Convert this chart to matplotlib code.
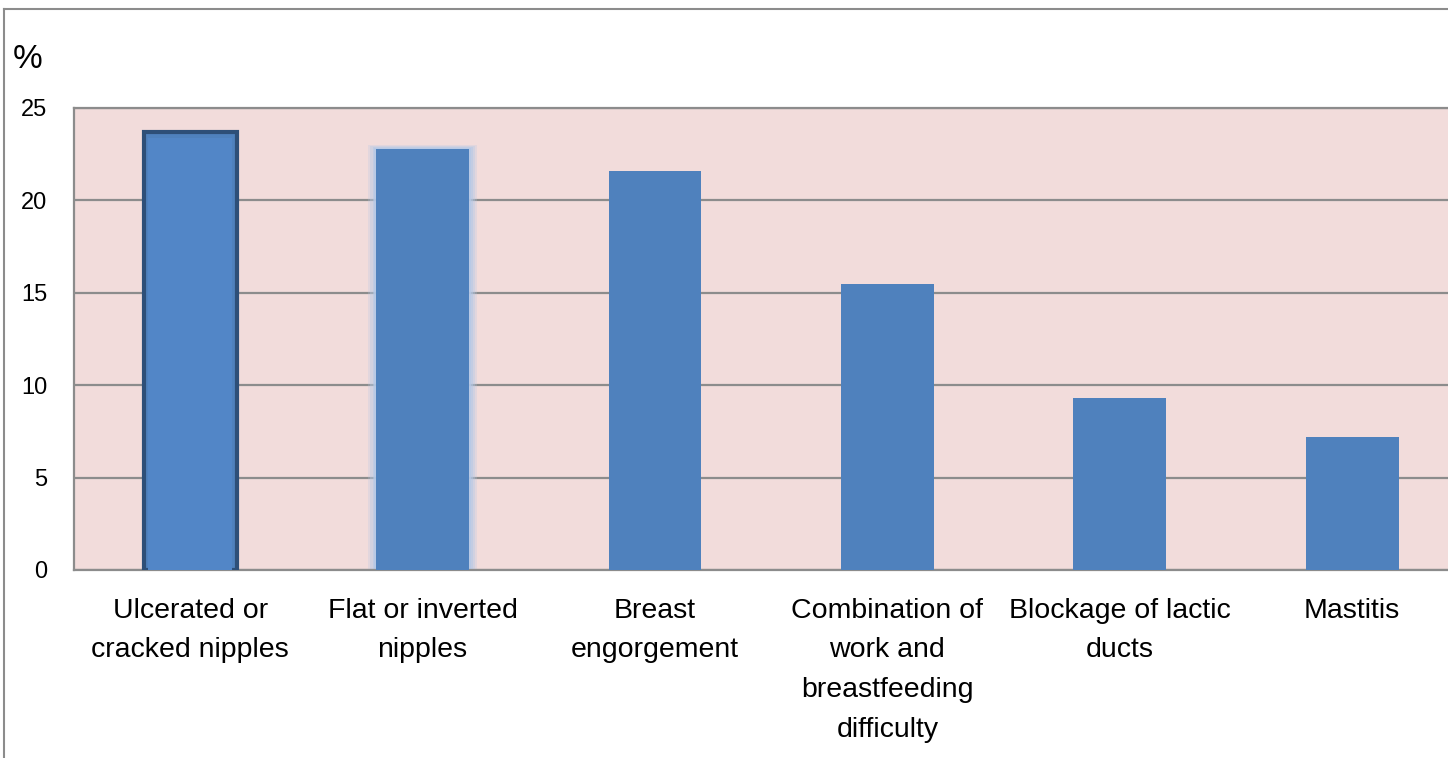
import matplotlib.pyplot as plt
from matplotlib.lines import Line2D

categories = [
    "Ulcerated or\ncracked nipples",
    "Flat or inverted\nnipples",
    "Breast\nengorgement",
    "Combination of\nwork and\nbreastfeeding\ndifficulty",
    "Blockage of lactic\nducts",
    "Mastitis",
]
percent = [23.7, 22.8, 21.6, 15.5, 9.3, 7.2]
y_ticks = [0, 5, 10, 15, 20, 25]

bar_color = '#4F81BD'
pink = '#F2DCDB'
grid_grey = '#8C8C8C'
font = 'Liberation Sans'

fig = plt.figure(figsize=(14.48, 7.58), dpi=100)
ax = fig.add_axes([74 / 1448, 188 / 758, 6 * 232.4 / 1448, 462 / 758])
ax.set_facecolor(pink)

x = list(range(len(categories)))

# soft glow behind the second bar
for w, a in [(0.47, 0.25), (0.45, 0.35), (0.43, 0.5), (0.415, 0.7)]:
    ax.bar(x[1], percent[1] + (w - 0.4) * 3, width=w, color='#B4C8E6', alpha=a, zorder=2)

bars = ax.bar(x, percent, width=0.4, color=bar_color, zorder=3)
# bevel on the first bar
bars[0].set_edgecolor('#2E4F78')
bars[0].set_linewidth(3)
ax.bar(x[0], percent[0] - 0.35, width=0.36, color='#5286C7', zorder=4)

ax.set_xlim(-0.5, 5.5)
ax.set_ylim(0, 25)
ax.set_yticks(y_ticks)
ax.yaxis.grid(True, color=grid_grey, linewidth=1.6, zorder=1)
ax.set_axisbelow(True)
ax.set_xticks(x)
ax.set_xticklabels(categories, fontsize=20.5, family=font, linespacing=1.68)
ax.tick_params(axis='x', length=0, pad=20)
ax.tick_params(axis='y', length=0, pad=19, labelsize=17)
for lab in ax.get_yticklabels():
    lab.set_family(font)

for s in ['left', 'top', 'bottom']:
    ax.spines[s].set_color(grid_grey)
    ax.spines[s].set_linewidth(1.6)
ax.spines['right'].set_visible(False)

fig.text(13 / 1448, 1 - 68 / 758, '%', fontsize=24, family=font)

# outer chart frame
fig.add_artist(Line2D([4 / 1448, 4 / 1448], [0, 1 - 9 / 758], color=grid_grey, linewidth=1.5))
fig.add_artist(Line2D([4 / 1448, 1], [1 - 9 / 758, 1 - 9 / 758], color=grid_grey, linewidth=1.5))

fig.savefig('out.png', dpi=100)
